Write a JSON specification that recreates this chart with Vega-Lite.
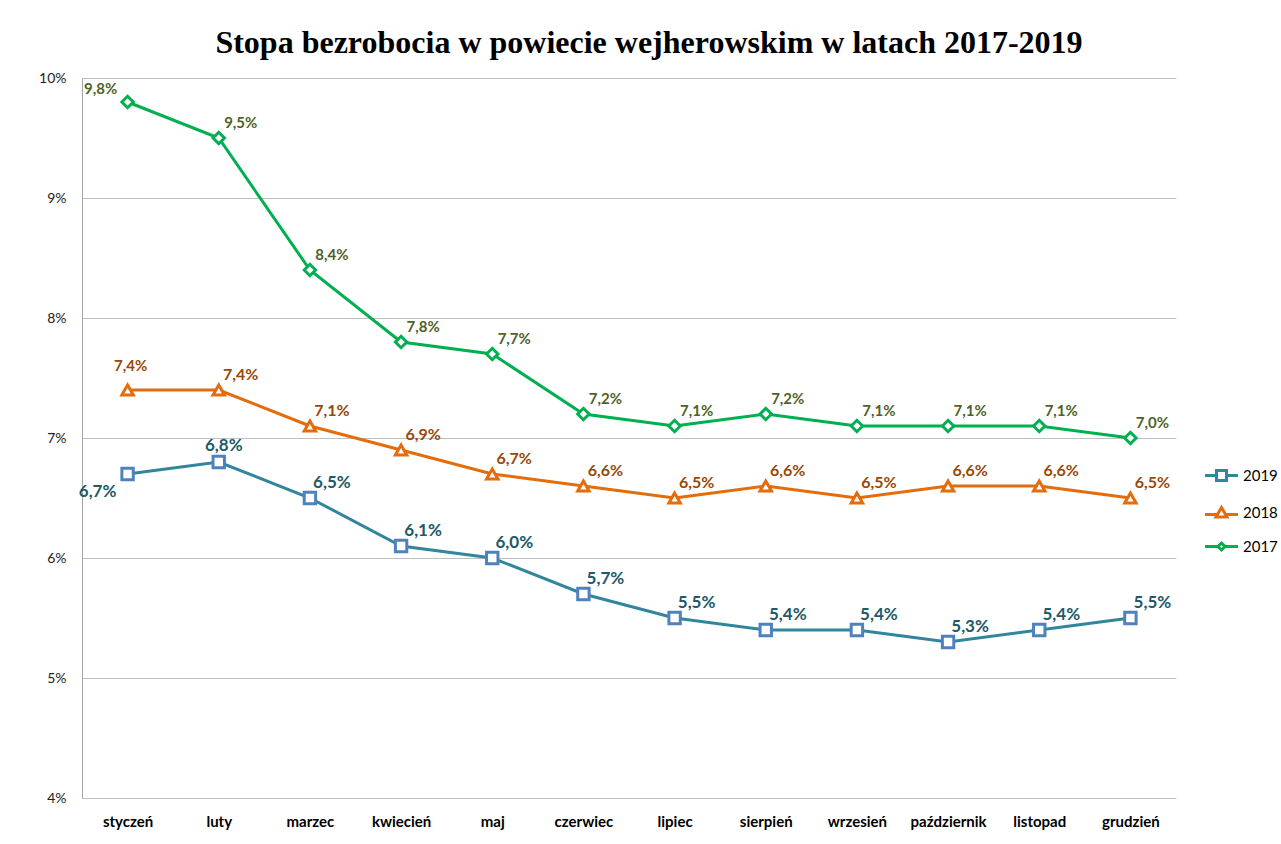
{
  "$schema": "https://vega.github.io/schema/vega-lite/v6.json",
  "width": 1094,
  "height": 720,
  "autosize": {"type": "none"},
  "padding": {"left": 82, "top": 78, "right": 105, "bottom": 46},
  "background": "white",
  "config": {
    "view": {"stroke": null},
    "locale": {"number": {"decimal": ",", "thousands": " ", "grouping": [3], "currency": ["", " zł"]}},
    "font": "Lato"
  },
  "title": {
    "text": "Stopa bezrobocia w powiecie wejherowskim w latach 2017-2019",
    "font": "Liberation Serif",
    "fontSize": 32,
    "fontWeight": "bold",
    "color": "black",
    "anchor": "middle",
    "frame": "group",
    "dx": 20,
    "offset": 11
  },
  "data": {"values": [
    {"m": "styczeń", "rok": "2019", "v": 0.067},
    {"m": "luty", "rok": "2019", "v": 0.068},
    {"m": "marzec", "rok": "2019", "v": 0.065},
    {"m": "kwiecień", "rok": "2019", "v": 0.061},
    {"m": "maj", "rok": "2019", "v": 0.060},
    {"m": "czerwiec", "rok": "2019", "v": 0.057},
    {"m": "lipiec", "rok": "2019", "v": 0.055},
    {"m": "sierpień", "rok": "2019", "v": 0.054},
    {"m": "wrzesień", "rok": "2019", "v": 0.054},
    {"m": "październik", "rok": "2019", "v": 0.053},
    {"m": "listopad", "rok": "2019", "v": 0.054},
    {"m": "grudzień", "rok": "2019", "v": 0.055},
    {"m": "styczeń", "rok": "2018", "v": 0.074},
    {"m": "luty", "rok": "2018", "v": 0.074},
    {"m": "marzec", "rok": "2018", "v": 0.071},
    {"m": "kwiecień", "rok": "2018", "v": 0.069},
    {"m": "maj", "rok": "2018", "v": 0.067},
    {"m": "czerwiec", "rok": "2018", "v": 0.066},
    {"m": "lipiec", "rok": "2018", "v": 0.065},
    {"m": "sierpień", "rok": "2018", "v": 0.066},
    {"m": "wrzesień", "rok": "2018", "v": 0.065},
    {"m": "październik", "rok": "2018", "v": 0.066},
    {"m": "listopad", "rok": "2018", "v": 0.066},
    {"m": "grudzień", "rok": "2018", "v": 0.065},
    {"m": "styczeń", "rok": "2017", "v": 0.098},
    {"m": "luty", "rok": "2017", "v": 0.095},
    {"m": "marzec", "rok": "2017", "v": 0.084},
    {"m": "kwiecień", "rok": "2017", "v": 0.078},
    {"m": "maj", "rok": "2017", "v": 0.077},
    {"m": "czerwiec", "rok": "2017", "v": 0.072},
    {"m": "lipiec", "rok": "2017", "v": 0.071},
    {"m": "sierpień", "rok": "2017", "v": 0.072},
    {"m": "wrzesień", "rok": "2017", "v": 0.071},
    {"m": "październik", "rok": "2017", "v": 0.071},
    {"m": "listopad", "rok": "2017", "v": 0.071},
    {"m": "grudzień", "rok": "2017", "v": 0.070}
  ]},
  "encoding": {
    "x": {
      "field": "m", "type": "nominal",
      "sort": ["styczeń","luty","marzec","kwiecień","maj","czerwiec","lipiec","sierpień","wrzesień","październik","listopad","grudzień"],
      "title": null,
      "axis": {"labelAngle": 0, "domain": false, "ticks": false, "labelFont": "Lato", "labelFontSize": 15, "labelFontWeight": "bold", "labelColor": "black", "labelPadding": 16}
    },
    "y": {
      "field": "v", "type": "quantitative",
      "scale": {"domain": [0.04, 0.10], "nice": false, "zero": false},
      "title": null,
      "axis": {"format": ".0%", "values": [0.04,0.05,0.06,0.07,0.08,0.09,0.10], "domain": true, "domainColor": "#a6a6a6", "ticks": false, "grid": true, "gridColor": "#bfbfbf", "labelFont": "Lato", "labelFontSize": 14, "labelFontWeight": "normal", "labelColor": "#222222", "labelPadding": 16}
    }
  },
  "layer": [
    {
      "mark": {"type": "line", "strokeWidth": 3},
      "encoding": {
        "color": {"field": "rok", "type": "nominal", "scale": {"domain": ["2019","2018","2017"], "range": ["#31859c","#e46c0a","#00b050"]}, "legend": null}
      }
    },
    {
      "mark": {"type": "point", "filled": true, "fill": "white", "strokeWidth": 3, "opacity": 1},
      "encoding": {
        "stroke": {"field": "rok", "type": "nominal", "scale": {"domain": ["2019","2018","2017"], "range": ["#4f81bd","#e46c0a","#00b050"]}, "legend": null},
        "shape": {"field": "rok", "type": "nominal", "scale": {"domain": ["2019","2018","2017"], "range": ["square","triangle-up","diamond"]}, "legend": null},
        "size": {"field": "rok", "type": "nominal", "scale": {"domain": ["2019","2018","2017"], "range": [130, 130, 60]}, "legend": null}
      }
    },
    {
      "mark": {"type": "point", "filled": false, "opacity": 0, "strokeWidth": 3, "size": 100},
      "encoding": {
        "color": {"field": "rok", "type": "nominal", "scale": {"domain": ["2019","2018","2017"], "range": ["#31859c","#e46c0a","#00b050"]},
          "legend": {"title": null, "orient": "none", "legendX": 1132, "legendY": 390, "symbolSize": 100, "symbolStrokeWidth": 3, "symbolOpacity": 1, "labelFont": "Lato", "labelFontSize": 15, "labelColor": "black", "labelOffset": 14, "rowPadding": 14}},
        "shape": {"field": "rok", "type": "nominal", "scale": {"domain": ["2019","2018","2017"], "range": ["M-3.3,0H-1M1,0H3.3M-1,-1H1V1H-1Z", "M-3.3,0.4H-0.75M0.75,0.4H3.3M0,-1L1.1,0.9H-1.1Z", "M-3.3,0H-0.7M0.7,0H3.3M0,-0.7L0.7,0L0,0.7L-0.7,0Z"]},
          "legend": {"title": null, "orient": "none", "legendX": 1132, "legendY": 390, "symbolSize": 100, "symbolStrokeWidth": 3, "symbolOpacity": 1, "labelFont": "Lato", "labelFontSize": 15, "labelColor": "black", "labelOffset": 14, "rowPadding": 14}}
      }
    },
    {
      "transform": [{"filter": "datum.m != 'styczeń' && !(datum.rok == '2019' && datum.m == 'luty')"}],
      "mark": {"type": "text", "fontWeight": "bold", "font": "Lato", "align": "center", "baseline": "middle", "dx": 22, "dy": -15},
      "encoding": {
        "text": {"field": "v", "type": "quantitative", "format": ".1%"},
        "color": {"field": "rok", "type": "nominal", "scale": {"domain": ["2019","2018","2017"], "range": ["#215968","#984807","#4f6228"]}, "legend": null},
        "size": {"field": "rok", "type": "nominal", "scale": {"domain": ["2019","2018","2017"], "range": [17, 15, 15]}, "legend": null}
      }
    },
    {
      "transform": [{"filter": "datum.m == 'styczeń' && datum.rok == '2017'"}],
      "mark": {"type": "text", "fontWeight": "bold", "font": "Lato", "fontSize": 15, "color": "#4f6228", "align": "center", "baseline": "middle", "dx": -27, "dy": -13},
      "encoding": {"text": {"field": "v", "type": "quantitative", "format": ".1%"}}
    },
    {
      "transform": [{"filter": "datum.m == 'styczeń' && datum.rok == '2018'"}],
      "mark": {"type": "text", "fontWeight": "bold", "font": "Lato", "fontSize": 15, "color": "#984807", "align": "center", "baseline": "middle", "dx": 3, "dy": -24},
      "encoding": {"text": {"field": "v", "type": "quantitative", "format": ".1%"}}
    },
    {
      "transform": [{"filter": "datum.m == 'styczeń' && datum.rok == '2019'"}],
      "mark": {"type": "text", "fontWeight": "bold", "font": "Lato", "fontSize": 17, "color": "#215968", "align": "center", "baseline": "middle", "dx": -30, "dy": 18},
      "encoding": {"text": {"field": "v", "type": "quantitative", "format": ".1%"}}
    },
    {
      "transform": [{"filter": "datum.m == 'luty' && datum.rok == '2019'"}],
      "mark": {"type": "text", "fontWeight": "bold", "font": "Lato", "fontSize": 17, "color": "#215968", "align": "center", "baseline": "middle", "dx": 5, "dy": -16},
      "encoding": {"text": {"field": "v", "type": "quantitative", "format": ".1%"}}
    }
  ],
  "resolve": {"scale": {"color": "independent", "shape": "independent", "size": "independent", "stroke": "independent"}}
}
